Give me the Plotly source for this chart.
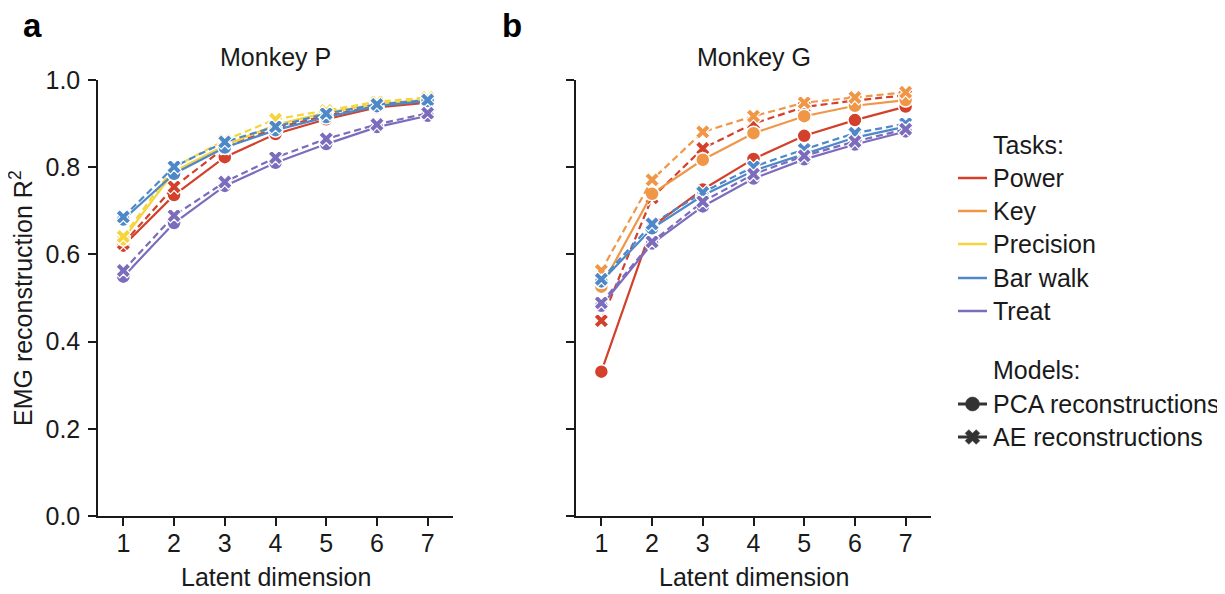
import plotly.graph_objects as go

W, H = 1225, 594

# ---------------- data ----------------
dims = [1, 2, 3, 4, 5, 6, 7]
tasks = ["Power", "Key", "Precision", "Bar walk", "Treat"]
task_colors = ["#d3402b", "#ef9747", "#f5d43c", "#4e88c8", "#7c6cbd"]

# Monkey P (no Key task)
P_power_pca = [0.620, 0.736, 0.823, 0.876, 0.910, 0.937, 0.948]
P_power_ae = [0.625, 0.755, 0.845, 0.890, 0.918, 0.940, 0.952]
P_key_pca = None
P_key_ae = None
P_precision_pca = [0.635, 0.790, 0.850, 0.897, 0.925, 0.945, 0.955]
P_precision_ae = [0.641, 0.800, 0.862, 0.910, 0.930, 0.950, 0.960]
P_barwalk_pca = [0.680, 0.785, 0.845, 0.885, 0.915, 0.940, 0.952]
P_barwalk_ae = [0.686, 0.801, 0.858, 0.893, 0.923, 0.944, 0.954]
P_treat_pca = [0.549, 0.672, 0.757, 0.810, 0.853, 0.892, 0.918]
P_treat_ae = [0.563, 0.689, 0.766, 0.822, 0.865, 0.898, 0.924]

# Monkey G (no Precision task)
G_power_pca = [0.331, 0.664, 0.749, 0.819, 0.872, 0.908, 0.939]
G_power_ae = [0.448, 0.730, 0.843, 0.900, 0.938, 0.953, 0.965]
G_key_pca = [0.526, 0.739, 0.817, 0.878, 0.917, 0.941, 0.954]
G_key_ae = [0.563, 0.771, 0.881, 0.917, 0.948, 0.960, 0.972]
G_precision_pca = None
G_precision_ae = None
G_barwalk_pca = [0.538, 0.660, 0.735, 0.792, 0.830, 0.868, 0.893]
G_barwalk_ae = [0.543, 0.670, 0.742, 0.801, 0.841, 0.878, 0.900]
G_treat_pca = [0.482, 0.625, 0.710, 0.774, 0.818, 0.852, 0.882]
G_treat_ae = [0.489, 0.629, 0.721, 0.784, 0.826, 0.859, 0.887]

monkey_P = [(P_power_pca, P_power_ae), (P_key_pca, P_key_ae),
            (P_precision_pca, P_precision_ae), (P_barwalk_pca, P_barwalk_ae),
            (P_treat_pca, P_treat_ae)]
monkey_G = [(G_power_pca, G_power_ae), (G_key_pca, G_key_ae),
            (G_precision_pca, G_precision_ae), (G_barwalk_pca, G_barwalk_ae),
            (G_treat_pca, G_treat_ae)]

y_ticks = [0.0, 0.2, 0.4, 0.6, 0.8, 1.0]
y_tick_labels = ["0.0", "0.2", "0.4", "0.6", "0.8", "1.0"]
model_labels = ["PCA reconstructions", "AE reconstructions"]

FONT = "Liberation Sans, Arial, sans-serif"
FS = 25
BLACK = "#1a1a1a"
OFF = 8  # page body margin in the browser


def px(x):
    return (x - OFF) / W


def py(y):
    return 1 - (y - OFF) / H


fig = go.Figure()

for monkey, (xa, ya) in [(monkey_P, ("x", "y")), (monkey_G, ("x2", "y2"))]:
    for (pca, ae), col in zip(monkey, task_colors):
        if pca is None:
            continue
        fig.add_trace(go.Scatter(
            x=dims, y=pca, xaxis=xa, yaxis=ya, mode="lines+markers",
            line=dict(color=col, width=2.2),
            marker=dict(symbol="circle", size=14, color=col,
                        line=dict(color="white", width=1.5)),
            showlegend=False, cliponaxis=False))
        fig.add_trace(go.Scatter(
            x=dims, y=ae, xaxis=xa, yaxis=ya, mode="lines+markers",
            line=dict(color=col, width=2.2, dash="7px,4px"),
            marker=dict(symbol="x", size=13, color=col,
                        line=dict(color="white", width=1.2)),
            showlegend=False, cliponaxis=False))

# ------------- legend (hidden pixel axis for glyphs) -------------
leg_x0, leg_x1, leg_xm = 958 - OFF, 987 - OFF, 972.5 - OFF
task_rows = [178, 211, 244, 278, 311]
model_rows = [404, 437]
for t, col, yy in zip(tasks, task_colors, task_rows):
    fig.add_trace(go.Scatter(x=[leg_x0, leg_x1], y=[yy - OFF, yy - OFF], xaxis="x3", yaxis="y3",
                             mode="lines", line=dict(color=col, width=2.5),
                             showlegend=False, hoverinfo="skip"))
for sym, yy, sz in [("circle", model_rows[0], 14), ("x", model_rows[1], 13)]:
    fig.add_trace(go.Scatter(x=[leg_x0, leg_x1], y=[yy - OFF, yy - OFF], xaxis="x3", yaxis="y3",
                             mode="lines", line=dict(color="#333333", width=3),
                             showlegend=False, hoverinfo="skip"))
    fig.add_trace(go.Scatter(x=[leg_xm], y=[yy - OFF], xaxis="x3", yaxis="y3",
                             mode="markers",
                             marker=dict(symbol=sym, size=sz, color="#333333",
                                         line=dict(color="#333333", width=0.5)),
                             showlegend=False, hoverinfo="skip"))

annotations = []
text_x = px(991)
for label, yy in zip(["Tasks:"] + tasks, [145] + task_rows):
    annotations.append(dict(x=text_x, y=py(yy), xref="paper", yref="paper", text=label,
                            showarrow=False, xanchor="left", yanchor="middle",
                            font=dict(size=FS, color=BLACK, family=FONT)))
for label, yy in zip(["Models:"] + model_labels, [370] + model_rows):
    annotations.append(dict(x=text_x, y=py(yy), xref="paper", yref="paper", text=label,
                            showarrow=False, xanchor="left", yanchor="middle",
                            font=dict(size=FS, color=BLACK, family=FONT)))

# titles, axis titles and panel letters
for txt, xc in [("Monkey P", 275.5), ("Monkey G", 753.5)]:
    annotations.append(dict(x=px(xc), y=py(57), xref="paper", yref="paper", text=txt,
                            showarrow=False, xanchor="center", yanchor="middle",
                            font=dict(size=FS, color=BLACK, family=FONT)))
for xc in [275.5, 753.5]:
    annotations.append(dict(x=px(xc), y=py(577), xref="paper", yref="paper",
                            text="Latent dimension",
                            showarrow=False, xanchor="center", yanchor="middle",
                            font=dict(size=FS, color=BLACK, family=FONT)))
annotations.append(dict(x=px(21), y=py(26), xref="paper", yref="paper", text="<b>a</b>",
                        showarrow=False, xanchor="left", yanchor="middle",
                        font=dict(size=33, color="black", family=FONT)))
annotations.append(dict(x=px(500), y=py(26), xref="paper", yref="paper", text="<b>b</b>",
                        showarrow=False, xanchor="left", yanchor="middle",
                        font=dict(size=33, color="black", family=FONT)))
annotations.append(dict(x=px(21), y=py(298), xref="paper", yref="paper",
                        text="EMG reconstruction R<sup>2</sup>", textangle=-90,
                        showarrow=False, xanchor="center", yanchor="middle",
                        font=dict(size=FS, color=BLACK, family=FONT)))

xaxis_common = dict(range=[0.5, 7.5], tickvals=dims, ticktext=[str(d) for d in dims],
                    showline=True, linecolor=BLACK, linewidth=1.5, ticks="outside",
                    ticklen=8, tickwidth=1.5, tickcolor=BLACK, showgrid=False, zeroline=False,
                    tickfont=dict(size=FS, color=BLACK, family=FONT), ticklabelstandoff=-4,
                    automargin=False, fixedrange=True)
yaxis_common = dict(range=[0, 1], tickvals=y_ticks, ticktext=y_tick_labels,
                    showline=True, linecolor=BLACK, linewidth=1.5, ticks="outside",
                    ticklen=8, tickwidth=1.5, tickcolor=BLACK, showgrid=False, zeroline=False,
                    tickfont=dict(size=FS, color=BLACK, family=FONT), ticklabelstandoff=3,
                    automargin=False, fixedrange=True)

fig.update_layout(
    width=W, height=H,
    margin=dict(l=0, r=0, t=0, b=0, pad=0, autoexpand=False),
    paper_bgcolor="white", plot_bgcolor="rgba(0,0,0,0)",
    showlegend=False,
    xaxis=dict(domain=[px(98), px(453)], anchor="y", **xaxis_common),
    yaxis=dict(domain=[py(516), py(80)], anchor="x", showticklabels=True, **yaxis_common),
    xaxis2=dict(domain=[px(576), px(931)], anchor="y2", **xaxis_common),
    yaxis2=dict(domain=[py(516), py(80)], anchor="x2", showticklabels=False, **yaxis_common),
    xaxis3=dict(domain=[0, 1], range=[0, W], visible=False, anchor="y3",
                automargin=False, fixedrange=True),
    yaxis3=dict(domain=[0, 1], range=[H, 0], visible=False, anchor="x3",
                automargin=False, fixedrange=True),
    annotations=annotations,
    font=dict(family=FONT, color=BLACK),
)

fig.write_html("out.html")
